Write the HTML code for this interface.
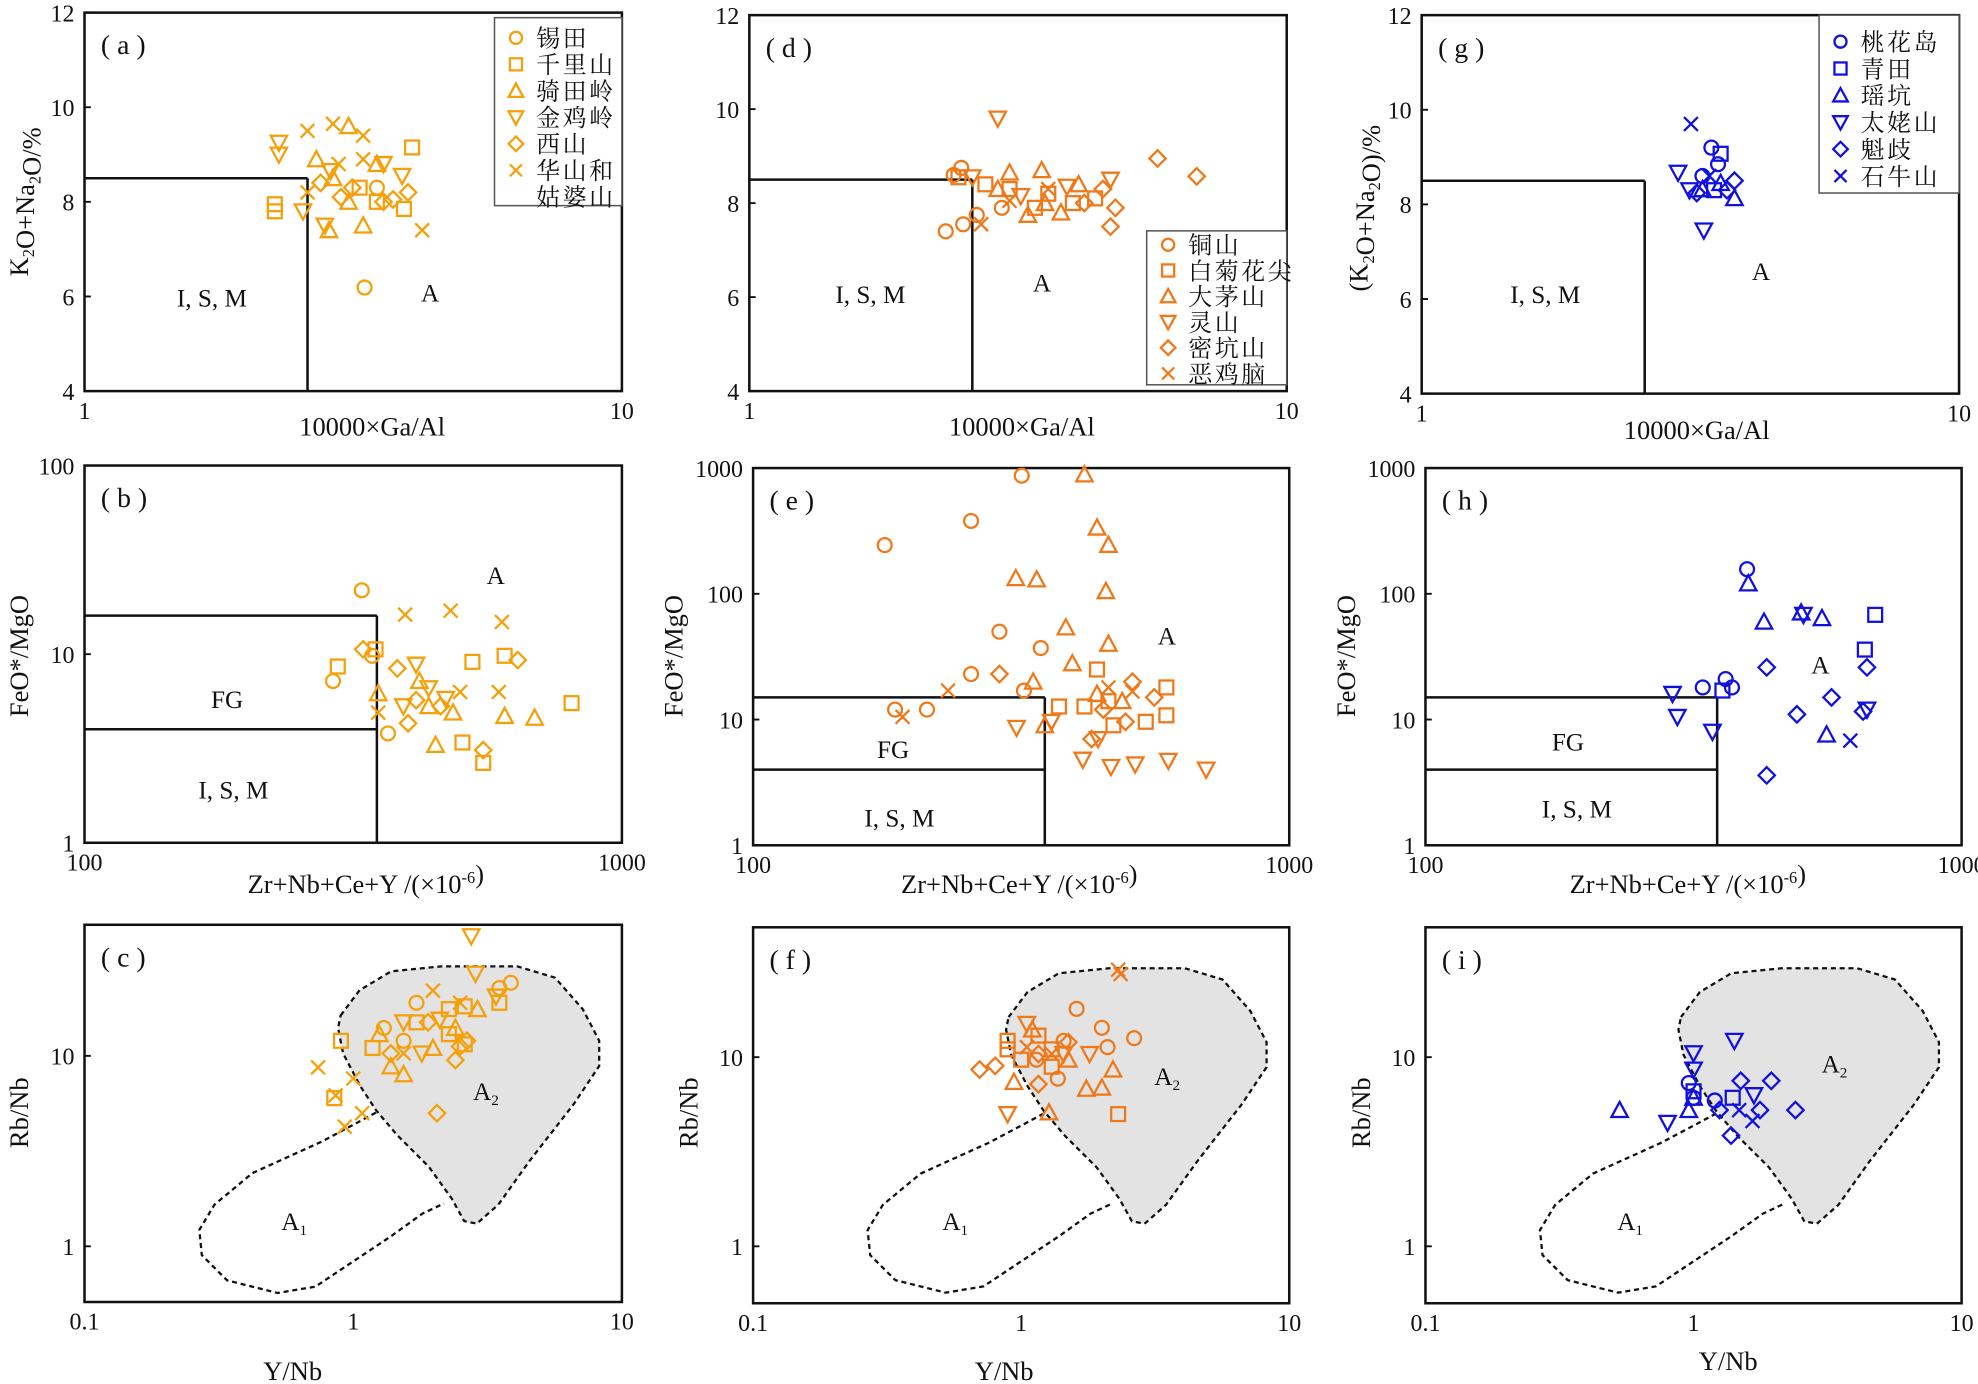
<!DOCTYPE html>
<html><head><meta charset="utf-8">
<style>
html,body{margin:0;padding:0;background:#fff;}
svg{display:block;}
text{font-family:"Liberation Serif","Noto Serif CJK SC","Noto Sans CJK SC",serif;fill:#111;}
</style></head>
<body>
<svg id="fig" width="1978" height="1384" viewBox="0 0 1568 1097" preserveAspectRatio="none" xmlns="http://www.w3.org/2000/svg"></svg>
<script>
// ---------- DATA (data units) ----------
const legendA = ['锡田','千里山','骑田岭','金鸡岭','西山','华山和姑婆山'];
const legendD = ['铜山','白菊花尖','大茅山','灵山','密坑山','恶鸡脑'];
const legendG = ['桃花岛','青田','瑶坑','太姥山','魁歧','石牛山'];
const markerTypes = ['circle','square','up','down','diamond','x'];

// panel a : 10000*Ga/Al vs K2O+Na2O
const aS0=[[3.32,6.19],[3.5,8.3]];
const aS1=[[2.26,7.95],[2.26,7.8],[4.07,9.15],[3.93,7.85],[3.25,8.3],[3.5,8.0]];
const aS2=[[3.1,9.6],[3.3,7.5],[2.9,8.5],[2.7,8.9],[3.5,8.8],[3.1,8.0],[2.85,7.4]];
const aS3=[[2.3,9.25],[2.3,9.0],[2.55,7.8],[2.8,7.5],[3.9,8.55],[3.6,8.8],[2.87,8.65]];
const aS4=[[4.0,8.2],[3.6,8.0],[3.15,8.3],[2.75,8.4],[3.0,8.1],[3.75,8.05]];
const aS5=[[2.6,9.5],[2.9,9.65],[3.3,9.4],[4.25,7.4],[3.3,8.9],[2.97,8.8],[2.6,8.2]];
// panel d
const dS0=[[2.48,8.75],[2.32,7.4],[2.5,7.55],[2.65,7.75],[2.95,7.9],[2.4,8.6]];
const dS1=[[2.45,8.55],[3.4,7.9],[4.0,8.0],[4.4,8.1],[3.05,8.3],[2.75,8.4],[3.6,8.2]];
const dS2=[[3.5,8.7],[3.05,8.65],[4.1,8.4],[3.55,8.0],[3.3,7.75],[2.9,8.3],[3.8,7.8]];
const dS3=[[2.9,9.8],[2.6,8.55],[3.2,8.15],[3.9,8.35],[4.7,8.5]];
const dS4=[[5.75,8.95],[6.8,8.57],[4.7,7.5],[4.8,7.9],[4.55,8.3],[4.2,8.0]];
const dS5=[[2.7,7.55],[3.05,8.05],[3.6,8.3]];
// panel g
const gS0=[[3.46,9.2],[3.56,8.85],[3.33,8.6]];
const gS1=[[3.6,9.07],[3.5,8.3]];
const gS2=[[3.82,8.13],[3.33,8.32],[3.6,8.45]];
const gS3=[[3.0,8.67],[3.35,7.45],[3.15,8.3]];
const gS4=[[3.82,8.5],[3.25,8.24],[3.7,8.3]];
const gS5=[[3.17,9.7],[3.43,8.6]];
// panel b : Zr+Nb+Ce+Y vs FeO*/MgO
const bS0=[[328,21.8],[290,7.2],[367,3.8],[343,9.8]];
const bS1=[[296,8.6],[348,10.6],[527,9.1],[552,2.65],[605,9.8],[806,5.5],[505,3.4]];
const bS2=[[352,6.2],[450,3.3],[605,4.7],[688,4.6],[437,5.3],[485,4.9],[420,7.2]];
const bS3=[[414,8.8],[437,6.6],[392,5.3],[470,5.8]];
const bS4=[[330,10.6],[640,9.3],[414,5.7],[460,5.3],[552,3.1],[382,8.4],[400,4.3]];
const bS5=[[395,16.2],[480,17],[598,14.8],[590,6.3],[352,4.9],[500,6.3]];
// panel e
const eS0=[[176,244],[255,380],[317,870],[288,50],[255,23],[344,37],[211,12],[184,12],[320,17]];
const eS1=[[590,18],[590,10.8],[438,25],[460,14],[415,12.7],[540,9.6],[470,9],[372,12.7]];
const eS2=[[415,890],[309,133],[338,130],[383,54],[438,336],[460,245],[455,105],[460,40],[394,28],[333,20],[350,9],[438,16],[488,14]];
const eS3=[[310,8.6],[360,9.6],[412,4.8],[465,4.2],[516,4.4],[595,4.7],[700,4],[440,7]];
const eS4=[[288,23],[510,20],[560,15],[495,9.6],[428,7],[450,12]];
const eS5=[[231,17],[190,10.5],[460,18],[510,16.7]];
// panel h
const hS0=[[398,157],[363,21],[329,18],[373,18]];
const hS1=[[690,68],[660,36],[358,17]];
const hS2=[[400,121],[428,60],[502,71],[549,64],[560,7.6]];
const hS3=[[289,16],[295,10.5],[343,8],[507,68],[666,12]];
const hS4=[[433,26],[433,3.6],[493,11],[572,15],[655,11.6],[666,26]];
const hS5=[[620,6.8]];
// panel c : Y/Nb vs Rb/Nb
const cS0=[[3.86,24.2],[3.5,22.7],[1.72,19],[1.3,14],[1.54,12]];
const cS1=[[0.9,12],[1.18,11],[1.72,15],[2.27,17.6],[2.6,18.2],[3.5,19],[2.27,13],[0.85,6],[2.6,11.5]];
const cS2=[[1.38,8.8],[1.54,8],[1.98,11],[2.4,14],[1.25,13],[2.9,17.6]];
const cS3=[[2.75,42.5],[2.85,27],[3.4,20.5],[1.8,10.3],[2.1,15.5],[1.54,15]];
const cS4=[[2.05,5],[2.4,9.5],[2.65,12],[1.9,15],[2.5,11.2],[1.38,10.3]];
const cS5=[[0.74,8.7],[0.86,6.2],[0.93,4.25],[1.08,5.0],[1.0,7.6],[1.54,10.3],[1.98,22],[2.5,19]];
// panel f
const fS0=[[1.61,18],[2.0,14.3],[2.1,11.3],[2.64,12.6],[1.44,12.2],[1.14,9.7],[1.37,7.7]];
const fS1=[[0.89,12.2],[0.89,11],[1.16,13],[2.3,5],[1.3,8.9],[1.0,9.7],[1.3,11]];
const fS2=[[1.27,5.1],[1.75,6.8],[2.0,6.9],[2.2,8.6],[0.94,7.4],[1.1,14],[1.5,9.7]];
const fS3=[[0.89,5],[1.05,15],[1.44,10.4],[1.8,10.4]];
const fS4=[[0.7,8.6],[0.8,9],[1.16,10.4],[1.5,12],[1.16,7.2]];
const fS5=[[2.3,29],[2.35,27.5],[1.05,11.3],[1.3,10.4]];
// panel i
const iS0=[[0.96,7.3],[1.2,5.9],[1.0,6.1]];
const iS1=[[1.0,6.6],[1.4,6.1]];
const iS2=[[0.53,5.25],[0.96,5.25],[1.0,6.1]];
const iS3=[[0.8,4.5],[1.0,10.5],[1.42,12.2],[1.68,6.3],[1.0,8.6]];
const iS4=[[1.38,3.85],[1.77,5.25],[1.95,7.5],[2.4,5.25],[1.5,7.5],[1.25,5.25]];
const iS5=[[1.66,4.6],[1.48,5.25]];

// ---------- DRAWING ----------
const NS='http://www.w3.org/2000/svg';
const svg=document.getElementById('fig');
function mk(tag,attrs,parent){const e=document.createElementNS(NS,tag);for(const k in attrs)e.setAttribute(k,attrs[k]);(parent||svg).appendChild(e);return e;}
function scale(type,d,r){if(type==='log'){const a=Math.log10(d[0]),b=Math.log10(d[1]);return v=>r[0]+(Math.log10(v)-a)/(b-a)*(r[1]-r[0]);}return v=>r[0]+(v-d[0])/(d[1]-d[0])*(r[1]-r[0]);}

function marker(g,type,x,y,color,sz){
  const s=sz||5.5;let e;
  const st={fill:'none',stroke:color,'stroke-width':1.8};
  if(type==='circle')e=mk('circle',Object.assign({cx:x,cy:y,r:s},st),g);
  else if(type==='square')e=mk('rect',Object.assign({x:x-s,y:y-s,width:2*s,height:2*s},st),g);
  else if(type==='up')e=mk('polygon',Object.assign({points:`${x},${y-s-1} ${x-s-1},${y+s} ${x+s+1},${y+s}`},st),g);
  else if(type==='down')e=mk('polygon',Object.assign({points:`${x},${y+s+1} ${x-s-1},${y-s} ${x+s+1},${y-s}`},st),g);
  else if(type==='diamond')e=mk('polygon',Object.assign({points:`${x},${y-s-1} ${x+s+1},${y} ${x},${y+s+1} ${x-s-1},${y}`},st),g);
  else e=mk('path',Object.assign({d:`M${x-s},${y-s}L${x+s},${y+s}M${x-s},${y+s}L${x+s},${y-s}`},st),g);
  return e;
}
function txt(x,y,s,size,attrs,parent){const t=mk('text',Object.assign({x:x,y:y,'font-size':size},attrs||{}),parent);t.textContent=s;return t;}

const ORA='#f5a00a', ORD='#f07818', BLU='#1010e0';
const P={
 a:{b:[67,493,10,310],xt:'log',xd:[1,10],yt:'lin',yd:[4,12],yt2:[4,6,8,10,12],xt2:[1,10],series:[aS0,aS1,aS2,aS3,aS4,aS5],c:ORA,lbl:'( a )',lab:[['I, S, M',168,236],['A',341,232]]},
 d:{b:[594,1020,12,310],xt:'log',xd:[1,10],yt:'lin',yd:[4,12],yt2:[4,6,8,10,12],xt2:[1,10],series:[dS0,dS1,dS2,dS3,dS4,dS5],c:ORD,lbl:'( d )',lab:[['I, S, M',690,233],['A',826,224]]},
 g:{b:[1127,1553,12,312],xt:'log',xd:[1,10],yt:'lin',yd:[4,12],yt2:[4,6,8,10,12],xt2:[1,10],series:[gS0,gS1,gS2,gS3,gS4,gS5],c:BLU,lbl:'( g )',lab:[['I, S, M',1225,233],['A',1396,215]]},
 b:{b:[67,493,369,668],xt:'log',xd:[100,1000],yt:'log',yd:[1,100],yt2:[1,10,100],xt2:[100,1000],series:[bS0,bS1,bS2,bS3,bS4,bS5],c:ORA,lbl:'( b )',lab:[['FG',180,554],['I, S, M',185,626],['A',393,456]]},
 e:{b:[597,1022,371,670],xt:'log',xd:[100,1000],yt:'log',yd:[1,1000],yt2:[1,10,100,1000],xt2:[100,1000],series:[eS0,eS1,eS2,eS3,eS4,eS5],c:ORD,lbl:'( e )',lab:[['FG',708,594],['I, S, M',713,648],['A',925,504]]},
 h:{b:[1130,1555,371,670],xt:'log',xd:[100,1000],yt:'log',yd:[1,1000],yt2:[1,10,100,1000],xt2:[100,1000],series:[hS0,hS1,hS2,hS3,hS4,hS5],c:BLU,lbl:'( h )',lab:[['FG',1243,588],['I, S, M',1250,641],['A',1443,527]]},
 c:{b:[67,493,733,1032],xt:'log',xd:[0.1,10],yt:'log',yd:[0.51,48.8],yt2:[1,10],xt2:[0.1,1,10],series:[cS0,cS1,cS2,cS3,cS4,cS5],c:ORA,lbl:'( c )',lab:[],a2:[375,872],a1:[223,975]},
 f:{b:[597,1022,735,1033],xt:'log',xd:[0.1,10],yt:'log',yd:[0.5,48.6],yt2:[1,10],xt2:[0.1,1,10],series:[fS0,fS1,fS2,fS3,fS4,fS5],c:ORD,lbl:'( f )',lab:[],a2:[915,860],a1:[747,975]},
 i:{b:[1130,1555,735,1033],xt:'log',xd:[0.1,10],yt:'log',yd:[0.5,48.6],yt2:[1,10],xt2:[0.1,1,10],series:[iS0,iS1,iS2,iS3,iS4,iS5],c:BLU,lbl:'( i )',lab:[],a2:[1444,850],a1:[1282,975]}
};
// A1/A2 field outlines (drawn in panel-c pixels, converted to log space)
const A2px=[[270,805],[285,785],[310,770],[350,766],[410,766],[440,775],[462,800],[475,825],[475,845],[455,875],[420,920],[395,955],[378,970],[368,968],[358,950],[340,925],[315,900],[298,880],[285,860],[272,835],[268,815]];
const A1px=[[298,882],[255,905],[200,930],[170,955],[158,975],[160,995],[180,1015],[220,1025],[250,1020],[280,1000],[310,980],[335,962],[352,954]];
const toLog=p=>[(p[0]-67)/213-1,(988-p[1])/151];

for(const key of ['a','d','g','b','e','h','c','f','i']){
  const p=P[key];const [x0,x1,y0,y1]=p.b;
  const g=mk('g',{});
  
  
  const X=scale(p.xt,p.xd,[x0,x1]),Y=scale(p.yt,p.yd,[y1,y0]);
  if('cfi'.includes(key)){
    const f=pts=>pts.map(q=>{const l=toLog(q);return X(Math.pow(10,l[0]))+','+Y(Math.pow(10,l[1]));}).join(' ');
    const a2=mk('polygon',{points:f(A2px),fill:'#e3e3e3',stroke:'#111','stroke-width':1.8,'stroke-dasharray':'4,3','stroke-linejoin':'round'},g);
    
    const a1=mk('polyline',{points:f(A1px),fill:'none',stroke:'#111','stroke-width':1.8,'stroke-dasharray':'4,3','stroke-linejoin':'round'},g);
    
    const la2=txt(p.a2[0],p.a2[1],'A',20,{},g);mk('tspan',{'font-size':12,dy:4},la2).textContent='2';
    const la1=txt(p.a1[0],p.a1[1],'A',20,{},g);mk('tspan',{'font-size':12,dy:4},la1).textContent='1';
  }
  const fr=mk('rect',{x:x0,y:y0,width:x1-x0,height:y1-y0,fill:'none',stroke:'#111','stroke-width':2},g);
  
  for(const t of p.yt2){const yy=Y(t);mk('line',{x1:x0,y1:yy,x2:x0+5,y2:yy,stroke:'#111','stroke-width':1.5},g);
    const tl=txt(x0-8,yy+7,String(t),19,{'text-anchor':'end'},g);}
  for(const t of p.xt2){const xx=X(t);const tl=txt(xx,y1+22,String(t),19,{'text-anchor':'middle'},g);}
  const L=(xa,ya,xb,yb)=>mk('line',{x1:X(xa),y1:Y(ya),x2:X(xb),y2:Y(yb),stroke:'#111','stroke-width':2},g);
  if('adg'.includes(key)){L(1,8.5,2.6,8.5);L(2.6,4,2.6,8.5);}
  if('beh'.includes(key)){const top=key==='b'?16:15;L(100,top,350,top);L(100,4,350,4);L(350,1,350,top);}
  for(const [s,lx,ly] of p.lab){const t=txt(lx,ly+7,s,20,{'text-anchor':'middle'},g);}
  txt(x0+13,y0+33,p.lbl,22,{},g);
  p.series.forEach((s,si)=>{
    const sg=mk('g',{},g);
    
    
    for(const d of s){const m=marker(sg,markerTypes[si],X(d[0]),Y(d[1]),p.c);
      
      }
  });
}
function sub(t,parts){parts.forEach(([s,isSub,isSup])=>{const ts=mk('tspan',{},t);if(isSub){ts.setAttribute('font-size',13);ts.setAttribute('dy',5);}else if(isSup){ts.setAttribute('font-size',13);ts.setAttribute('dy',-8);}ts.textContent=s;if(isSub||isSup){const z=mk('tspan',{dy:isSub?-5:8},t);z.textContent='';}});}
[[295,345],[810,345],[1345,348]].forEach(([x,y])=>{const t=txt(x,y,'10000×Ga/Al',21,{'text-anchor':'middle'});});
[[290,708],[808,708],[1338,708]].forEach(([x,y])=>{const t=mk('text',{x:x,y:y,'font-size':21,'text-anchor':'middle'});sub(t,[['Zr+Nb+Ce+Y /(×10'],['-6',0,1],[')']]);});
[[232,1094],[796,1094],[1370,1086]].forEach(([x,y])=>{const t=txt(x,y,'Y/Nb',21,{'text-anchor':'middle'});});
function ytitle(x,y,parts){const t=mk('text',{x:0,y:0,'font-size':21,'text-anchor':'middle',transform:`translate(${x},${y}) rotate(-90)`});sub(t,parts);}
ytitle(22,160,[['K'],['2',1],['O+Na'],['2',1],['O/%']]);
ytitle(1084,165,[['(K'],['2',1],['O+Na'],['2',1],['O)/%']]);
ytitle(22,520,[['FeO*/MgO']]);ytitle(541,520,[['FeO*/MgO']]);ytitle(1074,520,[['FeO*/MgO']]);
ytitle(22,882,[['Rb/Nb']]);ytitle(553,882,[['Rb/Nb']]);ytitle(1086,882,[['Rb/Nb']]);
function legend(x,y,w,h,names,color,rows,lname,off,sp){
  const g=mk('g',{});
  mk('rect',{x:x,y:y,width:w,height:h,fill:'#fff',stroke:'#555','stroke-width':1.2},g);
  let r=0;names.forEach((n,i)=>{const yy=y+off+r*sp;
    const e=mk('g',{},g);
    marker(e,markerTypes[i],x+10+7,yy,color,4.8);
    if(rows&&n.length>4){txt(x+33,yy+7,n.slice(0,3),19,{'letter-spacing':'2'},e);r++;txt(x+33,yy+7+sp,n.slice(3),19,{'letter-spacing':'2'},e);}
    else txt(x+33,yy+7,n,19,{'letter-spacing':'2'},e);
    r++;});
}
legend(392,14,101,149,legendA,ORA,true,'legend-a',16,21);
legend(909,183,111,122,legendD,ORD,false,'legend-d',11,20.4);
legend(1442,12,111,141,legendG,BLU,false,'legend-g',21,21.3);
</script>
</body></html>
